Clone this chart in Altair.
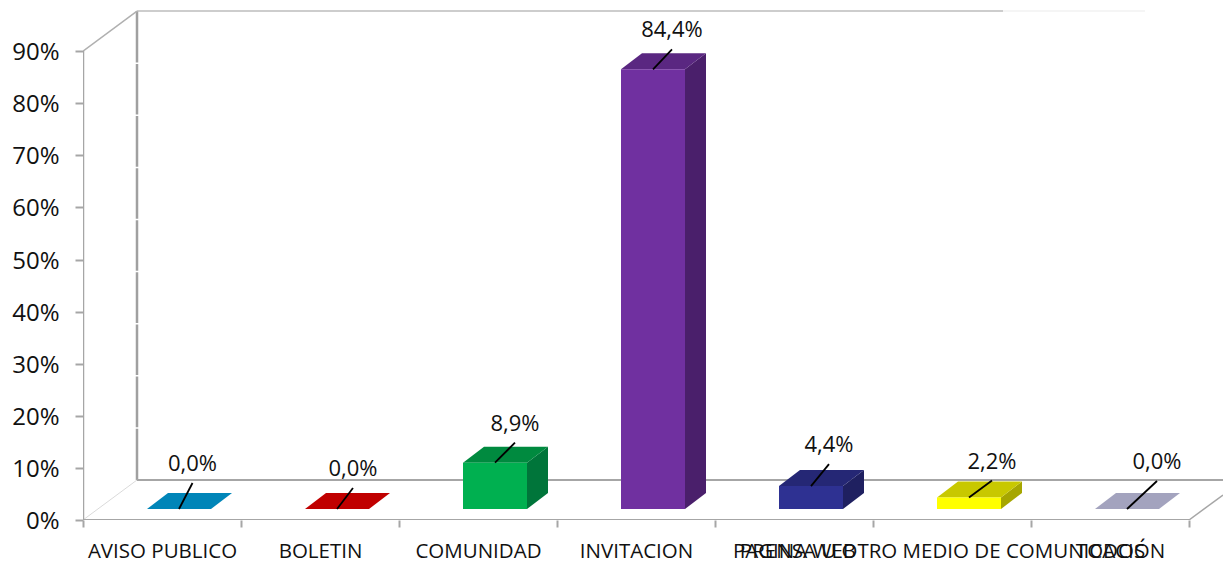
import json
import altair as alt
import pandas as pd

# ---- values
categories = ["AVISO PUBLICO", "BOLETIN", "COMUNIDAD", "INVITACION", "PAGINA WEB",
              "PRENSA U OTRO MEDIO DE COMUNICACIÓN", "TODOS"]
values = [0.0, 0.0, 8.9, 84.4, 4.4, 2.2, 0.0]
front_colors = ["#0085B8", "#C00000", "#00B050", "#7030A0", "#2E3192", "#FFFF00", "#A3A3BE"]
top_colors = ["#0085B8", "#C00000", "#008A3F", "#5A2781", "#252775", "#C8C800", "#A3A3BE"]
side_colors = ["#006A93", "#9A0000", "#00753A", "#4A1F6B", "#1F2060", "#A6A600", "#8A8AA5"]
leader_dx = [13.5, 16, 20, 19, 18, 23, 30]
leader_dy = [26, 21, 20, 20, 22, 17, 28]

# ---- layout in pixels, converted to data units
PX_X = 158.0      # pixels per category
PX_Y = 5.21       # pixels per percentage point
PLOT_W = 1140
PLOT_H = 512
X_MAX = PLOT_W / PX_X
Y_MAX = PLOT_H / PX_Y
BAR_OFF = 64 / PX_X
BAR_W = 64 / PX_X
LIFT = 11 / PX_Y
BAR_DX = 21 / PX_X
BAR_DY = 16 / PX_Y
WALL_DX = 54 / PX_X
WALL_DY = 40 / PX_Y
N = len(categories)
TOP = 90

x_scale = alt.Scale(domain=[0, X_MAX], nice=False, zero=False)
y_scale = alt.Scale(domain=[0, Y_MAX], nice=False, zero=False)
FONT = "Open Sans"
TXT = "#111111"

front, top_rows, side_rows, leaders, labels = [], [], [], [], []
for i, v in enumerate(values):
    x0 = i + BAR_OFF
    x1 = x0 + BAR_W
    y0 = LIFT
    y1 = LIFT + v
    front.append(dict(x=x0, x2=x1, y=y1, y2=y0, c=front_colors[i]))
    for xx, a, b in [(x0, y1, y1), (x0 + BAR_DX, y1 + BAR_DY, y1),
                     (x1, y1 + BAR_DY, y1), (x1 + BAR_DX, y1 + BAR_DY, y1 + BAR_DY)]:
        top_rows.append(dict(b=i, x=xx, y=a, y2=b, c=top_colors[i]))
    for xx, a, b in [(x1, y1, y0), (x1 + BAR_DX, y1 + BAR_DY, y0 + BAR_DY)]:
        side_rows.append(dict(b=i, x=xx, y=a, y2=b, c=side_colors[i]))
    sx = x0 + BAR_W / 2
    ex = sx + leader_dx[i] / PX_X
    ey = y1 + leader_dy[i] / PX_Y
    leaders.append(dict(s=i, p=0, x=sx, y=y1))
    leaders.append(dict(s=i, p=1, x=ex, y=ey))
    labels.append(dict(x=ex, y=ey + 19 / PX_Y, t=f"{v:.1f}".replace(".", ",") + "%"))

# frame: (x0, y0, x1, y1, colour, width)
segments = [
    (WALL_DX, WALL_DY, WALL_DX, TOP + WALL_DY, "#A0A0A0", 2.5),
    (WALL_DX, TOP + WALL_DY, 920 / PX_X, TOP + WALL_DY, "#BDBDBD", 1.5),
    (920 / PX_X, TOP + WALL_DY, 1062 / PX_X, TOP + WALL_DY, "#F2F2F2", 1.5),
    (0, TOP, WALL_DX, TOP + WALL_DY, "#B0B0B0", 1.5),
    (0, 0, WALL_DX, WALL_DY, "#DADADA", 1),
    (WALL_DX, WALL_DY, X_MAX, WALL_DY, "#A6A6A6", 2),
    (0, 0, 0, TOP, "#A6A6A6", 2.5),
    (0, 0, N, 0, "#A6A6A6", 2),
    (N, 0, X_MAX, 25 / PX_Y, "#A6A6A6", 1.5),
]
seg_rows = []
for s, (a, b, c, d, col, w) in enumerate(segments):
    seg_rows.append(dict(s=s, p=0, x=a, y=b, c=col, w=w))
    seg_rows.append(dict(s=s, p=1, x=c, y=d, c=col, w=w))

grid_rows = [dict(y=WALL_DY + g, x=WALL_DX - 3 / PX_X, x2=X_MAX) for g in range(10, 90, 10)]

x_axis = alt.Axis(
    values=list(range(N + 1)), title=None, grid=False, domain=False,
    labelExpr=json.dumps(categories, ensure_ascii=False) + "[datum.value] || ''",
    labelOffset=PX_X / 2, labelOverlap=False, labelBound=False, labelFlush=False,
    labelAngle=0, labelFont=FONT, labelFontSize=20.5, labelColor=TXT, labelPadding=14,
    labelLimit=800, tickColor="#A6A6A6", tickWidth=2, tickSize=7,
)
y_axis = alt.Axis(
    values=list(range(0, TOP + 1, 10)), title=None, grid=False, domain=False,
    labelExpr="datum.value + '%'", labelFont=FONT, labelFontSize=24, labelColor=TXT,
    labelPadding=16, labelOverlap=False, labelBound=False, labelFlush=False, labelOffset=1.5,
    tickColor="#A6A6A6", tickWidth=2, tickSize=8,
)

X = alt.X("x:Q", scale=x_scale, axis=x_axis)
Y = alt.Y("y:Q", scale=y_scale, axis=y_axis)
color = alt.Color("c:N", scale=None)

frame = alt.Chart(pd.DataFrame(seg_rows)).mark_line(clip=True, strokeCap="butt").encode(
    x=X, y=Y, detail="s:N", order="p:Q", color=color,
    strokeWidth=alt.StrokeWidth("w:Q", scale=None),
)
grid = alt.Chart(pd.DataFrame(grid_rows)).mark_rule(color="#FFFFFF", strokeWidth=1.5).encode(
    x=X, x2="x2:Q", y=Y,
)
sides = alt.Chart(pd.DataFrame(side_rows)).mark_area().encode(
    x=X, y=Y, y2="y2:Q", detail="b:N", color=color,
)
tops = alt.Chart(pd.DataFrame(top_rows)).mark_area().encode(
    x=X, y=Y, y2="y2:Q", detail="b:N", color=color,
)
fronts = alt.Chart(pd.DataFrame(front)).mark_rect().encode(
    x=X, x2="x2:Q", y=Y, y2="y2:Q", color=color,
)
lead = alt.Chart(pd.DataFrame(leaders)).mark_line(color="#000000", strokeWidth=1.8).encode(
    x=X, y=Y, detail="s:N", order="p:Q",
)
texts = alt.Chart(pd.DataFrame(labels)).mark_text(
    font=FONT, fontSize=22, color=TXT, align="center", baseline="middle",
).encode(x=X, y=Y, text="t:N")

chart = alt.layer(frame, grid, sides, tops, fronts, lead, texts).properties(
    width=PLOT_W, height=PLOT_H,
    autosize=alt.AutoSizeParams(type="none"),
    padding={"left": 75, "top": 0, "right": 0, "bottom": 41},
    background="#FFFFFF",
).configure_view(stroke=None)

chart.save("out.html", embed_options={"renderer": "svg", "actions": False})
